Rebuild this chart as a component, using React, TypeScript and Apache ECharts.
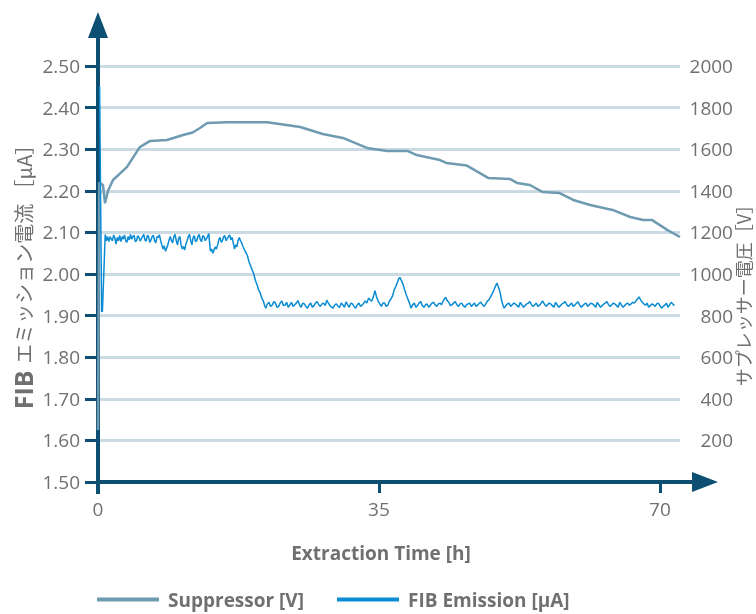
import React, { useEffect, useRef } from "react";
import * as echarts from "echarts";

const X_TICKS = [0, 35, 70];
const LEFT_MIN = 1.5;
const LEFT_MAX = 2.5;
const RIGHT_MIN = 0;
const RIGHT_MAX = 2000;

const SERIES_NAMES = ["Suppressor [V]", "FIB Emission [µA]"];

// Suppressor voltage [V] vs extraction time [h]
const suppressor: [number, number][] = [
  [0, 250], [0.15, 1440], [0.62, 1428], [0.87, 1340], [1.25, 1400], [1.87, 1452],
  [3.6, 1514], [5.2, 1610], [6.5, 1640], [8.6, 1644], [10.6, 1668], [11.8, 1680],
  [12.7, 1702], [13.6, 1726], [16.1, 1730], [21.1, 1730], [25.2, 1707], [28.0, 1673],
  [30.5, 1654], [33.5, 1606], [36.0, 1591], [38.6, 1591], [39.7, 1572], [42.6, 1548],
  [43.4, 1534], [45.9, 1522], [48.6, 1462], [51.3, 1457], [52.2, 1438], [53.8, 1428],
  [55.4, 1394], [57.5, 1389], [59.2, 1356], [61.3, 1332], [64.1, 1308], [66.3, 1274],
  [67.9, 1260], [69.0, 1260], [70.9, 1212], [72.5, 1178],
];

// FIB emission current [µA] vs extraction time [h]
const emission: [number, number][] = [
  [0.2, 2.45], [0.45, 1.91], [0.55, 1.91], [0.9, 2.095], [1.05, 2.08], [1.2, 2.09], [1.35, 2.078], [1.5, 2.09],
  [1.65, 2.084], [1.8, 2.08], [1.95, 2.094], [2.1, 2.086], [2.25, 2.072], [2.4, 2.088], [2.55, 2.08], [2.7, 2.093],
  [2.85, 2.078], [3.0, 2.09], [3.15, 2.084], [3.3, 2.094], [3.45, 2.08], [3.6, 2.076], [3.75, 2.09], [3.9, 2.082],
  [4.05, 2.095], [4.2, 2.084], [4.35, 2.09], [4.5, 2.093], [4.65, 2.078], [4.8, 2.08], [4.95, 2.092], [5.1, 2.088],
  [5.25, 2.079], [5.4, 2.085], [5.55, 2.09], [5.7, 2.095], [5.85, 2.082], [6.0, 2.079], [6.15, 2.093], [6.3, 2.09],
  [6.45, 2.076], [6.6, 2.082], [6.75, 2.09], [6.9, 2.093], [7.05, 2.08], [7.2, 2.075], [7.35, 2.09], [7.5, 2.088],
  [7.65, 2.094], [7.8, 2.08], [7.95, 2.07], [8.1, 2.06], [8.25, 2.068], [8.4, 2.055], [8.55, 2.062], [8.7, 2.07],
  [8.85, 2.082], [9.0, 2.09], [9.15, 2.08], [9.3, 2.075], [9.45, 2.09], [9.6, 2.095], [9.75, 2.08], [9.9, 2.07],
  [10.05, 2.086], [10.2, 2.09], [10.35, 2.07], [10.5, 2.06], [10.65, 2.066], [10.8, 2.058], [10.95, 2.072], [11.1, 2.08],
  [11.25, 2.09], [11.4, 2.095], [11.55, 2.08], [11.7, 2.07], [11.85, 2.088], [12.0, 2.092], [12.15, 2.078], [12.3, 2.08],
  [12.45, 2.09], [12.6, 2.095], [12.75, 2.082], [12.9, 2.078], [13.05, 2.092], [13.2, 2.09], [13.35, 2.08], [13.5, 2.085],
  [13.65, 2.09], [13.8, 2.097], [14.0, 2.055], [14.15, 2.06], [14.3, 2.05], [14.45, 2.058], [14.6, 2.065], [14.75, 2.06],
  [14.9, 2.07], [15.05, 2.082], [15.2, 2.088], [15.35, 2.076], [15.5, 2.08], [15.65, 2.09], [15.8, 2.092], [15.95, 2.08],
  [16.1, 2.085], [16.25, 2.09], [16.4, 2.094], [16.55, 2.082], [16.7, 2.088], [16.85, 2.075], [17.0, 2.06], [17.15, 2.07],
  [17.3, 2.065], [17.45, 2.08], [17.6, 2.088], [17.75, 2.08], [17.9, 2.075], [18.05, 2.066], [18.2, 2.06], [18.4, 2.052],
  [18.6, 2.045], [18.8, 2.03], [19.0, 2.02], [19.2, 2.01], [19.4, 2.0], [19.6, 1.985], [19.8, 1.975], [20.0, 1.962],
  [20.2, 1.955], [20.4, 1.942], [20.6, 1.935], [20.75, 1.925], [20.9, 1.918], [21.1, 1.928], [21.3, 1.932], [21.5, 1.922],
  [21.7, 1.925], [21.9, 1.934], [22.1, 1.93], [22.3, 1.92], [22.5, 1.922], [22.7, 1.93], [22.9, 1.935], [23.1, 1.924],
  [23.3, 1.925], [23.5, 1.932], [23.7, 1.92], [23.9, 1.926], [24.1, 1.932], [24.3, 1.922], [24.5, 1.926], [24.7, 1.93],
  [24.9, 1.936], [25.1, 1.926], [25.3, 1.92], [25.5, 1.93], [25.7, 1.928], [25.9, 1.922], [26.1, 1.918], [26.3, 1.926],
  [26.5, 1.93], [26.7, 1.92], [26.9, 1.924], [27.1, 1.93], [27.3, 1.934], [27.5, 1.926], [27.7, 1.922], [27.9, 1.928],
  [28.1, 1.93], [28.3, 1.924], [28.5, 1.937], [28.7, 1.93], [28.9, 1.924], [29.1, 1.92], [29.3, 1.918], [29.5, 1.926],
  [29.7, 1.928], [29.9, 1.922], [30.1, 1.92], [30.3, 1.93], [30.5, 1.926], [30.7, 1.92], [30.9, 1.933], [31.1, 1.926],
  [31.3, 1.92], [31.5, 1.93], [31.7, 1.928], [31.9, 1.922], [32.1, 1.918], [32.3, 1.926], [32.5, 1.93], [32.7, 1.922],
  [32.9, 1.925], [33.1, 1.93], [33.3, 1.935], [33.5, 1.93], [33.7, 1.942], [33.9, 1.938], [34.1, 1.935], [34.3, 1.945],
  [34.5, 1.96], [34.7, 1.945], [34.9, 1.935], [35.1, 1.928], [35.3, 1.922], [35.5, 1.93], [35.7, 1.93], [35.9, 1.922],
  [36.1, 1.925], [36.3, 1.935], [36.5, 1.94], [36.7, 1.948], [36.9, 1.962], [37.1, 1.97], [37.3, 1.98], [37.45, 1.988],
  [37.6, 1.992], [37.8, 1.984], [38.0, 1.975], [38.2, 1.962], [38.4, 1.95], [38.6, 1.94], [38.8, 1.93], [39.0, 1.918],
  [39.2, 1.926], [39.4, 1.93], [39.6, 1.92], [39.8, 1.924], [40.0, 1.93], [40.2, 1.934], [40.4, 1.924], [40.6, 1.92],
  [40.8, 1.926], [41.0, 1.928], [41.2, 1.92], [41.4, 1.925], [41.6, 1.93], [41.8, 1.932], [42.0, 1.926], [42.2, 1.922],
  [42.4, 1.928], [42.6, 1.93], [42.8, 1.926], [43.0, 1.935], [43.15, 1.94], [43.3, 1.944], [43.5, 1.936], [43.7, 1.932],
  [43.9, 1.924], [44.1, 1.926], [44.3, 1.93], [44.5, 1.934], [44.7, 1.926], [44.9, 1.922], [45.1, 1.928], [45.3, 1.93],
  [45.5, 1.924], [45.7, 1.92], [45.9, 1.926], [46.1, 1.928], [46.3, 1.93], [46.5, 1.922], [46.7, 1.926], [46.9, 1.93],
  [47.1, 1.922], [47.3, 1.925], [47.5, 1.93], [47.7, 1.932], [47.9, 1.926], [48.1, 1.922], [48.3, 1.928], [48.5, 1.935],
  [48.7, 1.938], [48.9, 1.945], [49.1, 1.952], [49.4, 1.965], [49.55, 1.972], [49.7, 1.978], [49.85, 1.97], [50.0, 1.962],
  [50.15, 1.95], [50.3, 1.935], [50.45, 1.925], [50.6, 1.918], [50.8, 1.924], [51.0, 1.928], [51.2, 1.93], [51.4, 1.922],
  [51.6, 1.926], [51.8, 1.93], [52.0, 1.928], [52.2, 1.924], [52.4, 1.92], [52.6, 1.932], [52.8, 1.926], [53.0, 1.92],
  [53.2, 1.924], [53.4, 1.928], [53.6, 1.93], [53.8, 1.934], [54.0, 1.926], [54.2, 1.922], [54.4, 1.926], [54.6, 1.93],
  [54.8, 1.922], [55.0, 1.925], [55.2, 1.93], [55.4, 1.935], [55.6, 1.928], [55.8, 1.922], [56.0, 1.926], [56.2, 1.93],
  [56.4, 1.928], [56.6, 1.924], [56.8, 1.92], [57.0, 1.932], [57.2, 1.926], [57.4, 1.92], [57.6, 1.924], [57.8, 1.928],
  [58.0, 1.93], [58.2, 1.934], [58.4, 1.926], [58.6, 1.922], [58.8, 1.926], [59.0, 1.93], [59.2, 1.922], [59.4, 1.925],
  [59.6, 1.93], [59.8, 1.933], [60.0, 1.926], [60.2, 1.92], [60.4, 1.924], [60.6, 1.928], [60.8, 1.93], [61.0, 1.922],
  [61.2, 1.926], [61.4, 1.93], [61.6, 1.928], [61.8, 1.925], [62.0, 1.92], [62.2, 1.932], [62.4, 1.926], [62.6, 1.92],
  [62.8, 1.924], [63.0, 1.928], [63.2, 1.93], [63.4, 1.934], [63.6, 1.926], [63.8, 1.922], [64.0, 1.926], [64.2, 1.93],
  [64.4, 1.928], [64.6, 1.924], [64.8, 1.92], [65.0, 1.932], [65.2, 1.926], [65.4, 1.92], [65.6, 1.924], [65.8, 1.928],
  [66.0, 1.93], [66.2, 1.925], [66.4, 1.928], [66.6, 1.932], [66.8, 1.93], [67.0, 1.935], [67.2, 1.94], [67.4, 1.945],
  [67.6, 1.938], [67.8, 1.932], [68.0, 1.928], [68.2, 1.925], [68.4, 1.93], [68.6, 1.92], [68.8, 1.924], [69.0, 1.928],
  [69.2, 1.926], [69.4, 1.922], [69.6, 1.928], [69.8, 1.93], [70.0, 1.924], [70.2, 1.918], [70.4, 1.922], [70.6, 1.925],
  [70.8, 1.93], [71.0, 1.92], [71.2, 1.926], [71.4, 1.932], [71.6, 1.928], [71.8, 1.924],
];

const AXIS_COLOR = "#0d4f72";
const LABEL_COLOR = "#707070";
const GRID_COLOR = "#ccdbe3";
const SUPP_COLOR = "#6f9bb2";
const EMIS_COLOR = "#0a8bd3";
const FONT = "Open Sans";
const CJK = "Noto Sans CJK JP";

export default function App() {
  const ref = useRef<HTMLDivElement>(null);
  useEffect(() => {
    if (!ref.current) return;
    const chart = echarts.init(ref.current, undefined, { renderer: "svg" });
    const gl = 98, gt = 66, gr = 680, gb = 482;
    chart.setOption({
      animation: false,
      textStyle: { fontFamily: FONT },
      grid: { left: gl, top: gt, right: 756 - gr, bottom: 614 - gb },
      legend: {
        data: SERIES_NAMES,
        left: 97,
        top: 590,
        padding: 0,
        icon: "rect",
        itemWidth: 62,
        itemHeight: 4,
        itemGap: 33,
        textStyle: { fontSize: 19, fontWeight: "bold", color: LABEL_COLOR, fontFamily: FONT, padding: [0, 0, 0, 4] },
      },
      xAxis: {
        type: "value",
        min: 0,
        max: 72.5,
        axisLine: { show: true, lineStyle: { color: AXIS_COLOR, width: 4 } },
        axisTick: { show: true, customValues: X_TICKS, length: 11, lineStyle: { color: AXIS_COLOR, width: 3 } },
        axisLabel: { customValues: X_TICKS, margin: 17, fontSize: 19, color: LABEL_COLOR, fontFamily: FONT },
        splitLine: { show: false },
      },
      yAxis: [
        {
          type: "value",
          min: LEFT_MIN,
          max: LEFT_MAX,
          interval: 0.1,
          axisLine: { show: true, lineStyle: { color: AXIS_COLOR, width: 4 } },
          axisTick: { show: true, length: 13, lineStyle: { color: AXIS_COLOR, width: 3 } },
          axisLabel: { margin: 18, fontSize: 19, color: LABEL_COLOR, fontFamily: FONT, formatter: (v: number) => v.toFixed(2) },
          splitLine: { show: true, lineStyle: { color: GRID_COLOR, width: 3 } },
        },
        {
          type: "value",
          min: RIGHT_MIN,
          max: RIGHT_MAX,
          interval: 200,
          position: "right",
          axisLine: { show: false },
          axisTick: { show: false },
          axisLabel: {
            margin: 53,
            align: "right",
            fontSize: 19,
            color: LABEL_COLOR,
            fontFamily: FONT,
            formatter: (v: number) => (v === 0 ? "" : String(v)),
          },
          splitLine: { show: false },
        },
      ],
      graphic: [
        { type: "line", shape: { x1: gl, y1: gt, x2: gl, y2: 36 }, style: { stroke: AXIS_COLOR, lineWidth: 4 } },
        { type: "polygon", shape: { points: [[88, 38], [108, 38], [98, 12]] }, style: { fill: AXIS_COLOR } },
        { type: "line", shape: { x1: gr, y1: gb, x2: 694, y2: gb }, style: { stroke: AXIS_COLOR, lineWidth: 4 } },
        { type: "polygon", shape: { points: [[692, 472], [692, 492], [718, 482]] }, style: { fill: AXIS_COLOR } },
        { type: "line", shape: { x1: gl, y1: gb, x2: gl, y2: 494 }, style: { stroke: AXIS_COLOR, lineWidth: 4 } },
        {
          type: "text",
          x: 381,
          y: 553,
          style: { text: "Extraction Time [h]", fontSize: 19, fontWeight: "bold", fill: LABEL_COLOR, fontFamily: FONT, align: "center", verticalAlign: "middle" },
        },
        {
          type: "text",
          x: 23,
          y: 272,
          rotation: Math.PI / 2,
          style: {
            text: "{b|FIB}  {c|エミッション電流 ［µA］}",
            fill: LABEL_COLOR,
            align: "center",
            verticalAlign: "middle",
            rich: {
              b: { fontWeight: "bold", fontSize: 25, lineHeight: 26, fill: LABEL_COLOR, fontFamily: FONT },
              c: { fontSize: 20, lineHeight: 26, fill: LABEL_COLOR, fontFamily: CJK },
            },
          },
        },
        {
          type: "text",
          x: 743,
          y: 291,
          rotation: Math.PI / 2,
          style: { text: "サプレッサー電圧［V］", fill: LABEL_COLOR, fontSize: 18, lineHeight: 18, fontFamily: CJK, align: "center", verticalAlign: "middle" },
        },
      ],
      series: [
        {
          name: SERIES_NAMES[0],
          type: "line",
          yAxisIndex: 1,
          data: suppressor,
          showSymbol: false,
          symbol: "none",
          color: SUPP_COLOR,
          lineStyle: { color: SUPP_COLOR, width: 2.5 },
        },
        {
          name: SERIES_NAMES[1],
          type: "line",
          yAxisIndex: 0,
          data: emission,
          showSymbol: false,
          symbol: "none",
          color: EMIS_COLOR,
          lineStyle: { color: EMIS_COLOR, width: 1.5 },
        },
      ],
    });
    return () => chart.dispose();
  }, []);
  return <div ref={ref} style={{ position: "fixed", left: 0, top: 0, width: 756, height: 614 }} />;
}
